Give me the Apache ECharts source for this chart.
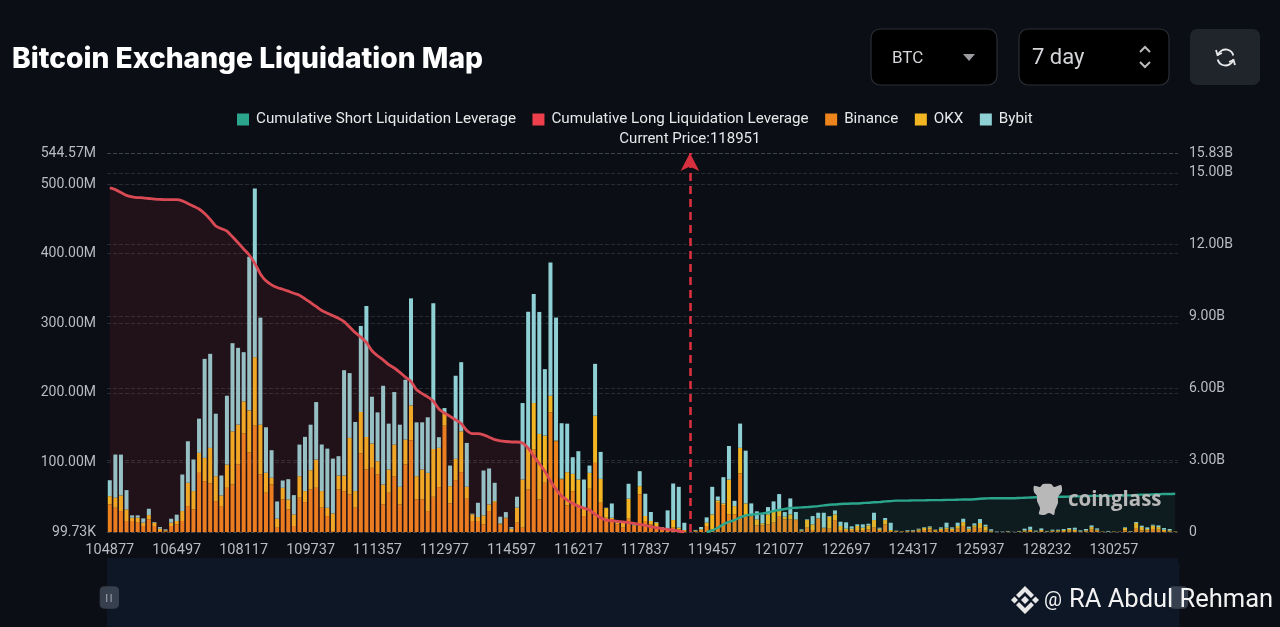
<!DOCTYPE html>
<html><head><meta charset="utf-8">
<style>html,body{margin:0;padding:0;background:#0b0e14;width:1280px;height:627px;overflow:hidden}#c{width:1280px;height:627px}</style>
<script src="https://cdn.jsdelivr.net/npm/echarts@6/dist/echarts.min.js"></script>
</head><body><div id="c"></div>
<script>
const categories=[
104877,105012,105147,105282,105417,105552,105687,105822,105957,106092,106227,106362,
106497,106632,106767,106902,107037,107172,107307,107442,107577,107712,107847,107982,
108117,108252,108387,108522,108657,108792,108927,109062,109197,109332,109467,109602,
109737,109872,110007,110142,110277,110412,110547,110682,110817,110952,111087,111222,
111357,111492,111627,111762,111897,112032,112167,112302,112437,112572,112707,112842,
112977,113112,113247,113382,113517,113652,113787,113922,114057,114192,114327,114462,
114597,114732,114867,115002,115137,115272,115407,115542,115677,115812,115947,116082,
116217,116352,116487,116622,116757,116892,117027,117162,117297,117432,117567,117702,
117837,117972,118107,118242,118377,118512,118647,118782,118917,119052,119187,119322,
119457,119592,119727,119862,119997,120132,120267,120402,120537,120672,120807,120942,
121077,121212,121347,121482,121617,121752,121887,122022,122157,122292,122427,122562,
122697,122832,122967,123102,123237,123372,123507,123642,123777,123912,124047,124182,
124317,124452,124587,124722,124857,124992,125127,125262,125397,125532,125667,125802,
125937,126072,126207,126477,126612,126747,127017,127152,127287,127557,127692,127962,
128232,128367,128502,128637,128907,129042,129177,129312,129582,129717,129852,130122,
130257,130392,130527,130662,130797,130932,131067,131202,131337,131472,131607,131742];
const binance=[39.6,34.9,30.1,15.8,15.8,13.4,8.6,18.1,8.6,1.4,1,8.6,
11,15.8,37.3,32.5,85,73.1,69.7,44.4,36.3,63.5,68.3,97,
141.4,114.6,152.8,82.6,56.4,68.3,6.2,46.8,32.5,8.6,49.2,43,
61.1,63.5,34.9,22.9,1.4,61.1,58.7,54,34.9,112.7,89.8,92.2,
82.6,39.6,56.4,80.2,39.6,97,131.8,46.8,46.8,30.1,50.6,64.5,
152.8,41.1,74.5,86,47.8,15.8,15.8,11,30.1,42,11,19.1,
1.4,13.4,6.2,61.1,118.4,46.8,70.7,171.9,130.4,75.5,38.2,58.7,
37.3,22.9,62.1,99.3,42,20.5,18.1,11,6.2,19.1,8.6,54,
15.8,11,6.2,4.8,3.8,6.2,3.8,1.4,0.1,1,2.9,8.6,
3.8,42,38.7,25.3,25.3,84.1,22.9,22,9.6,9.6,11,13.4,
22.9,18.1,18.1,17.2,1,6.2,2.9,19.1,4.8,4.8,17.2,2.9,
2.9,2.9,2.9,2.9,3.8,6.2,2.9,11,1.4,1,0.5,1,
1,1.9,2.9,3.8,1.9,2.9,3.8,2.9,4.8,8.6,2.9,6.2,
5.7,1.9,1,0.2,0.2,0.5,0.2,0.5,1,1.4,0.5,1.4,
0.5,1,1,1.4,1.9,1.4,0.5,1,3.3,1.9,0.2,0.5,
0.2,0.5,2.4,0.5,5.7,2.4,2.4,4.3,3.3,1.4,1,0.2];
const okx=[11.9,14.3,22.4,16.7,4.8,7.2,4.8,6.2,4.8,3.3,1.4,4.8,
4.8,14.3,33.4,26.3,28.7,33.4,51.1,35.8,16.2,33.4,76.4,57.3,
46.3,60.2,98.4,71.6,28.7,9.6,12.9,16.7,14.3,16.7,31,15.8,
27.7,40.6,23.9,11.9,25.3,20.1,22.4,81.2,23.9,59.7,46.8,34.9,
19.1,28.7,33.4,45.4,25.3,35.8,50.1,33.4,43,54.9,68.8,56.4,
17.2,24.8,30.6,58.7,17.2,9.6,5.7,12.9,9.6,2.4,1.4,1.4,
3.3,21.5,69.3,58.3,66.9,94.1,67.8,23.9,1,1,47.8,24.8,
38.2,11.9,22.9,67.8,34.4,13.9,2.4,2.4,7.2,28.7,1,11.9,
7.2,4.8,7.2,1.4,1,11,2.4,1.4,0,1,1,4.8,
21.5,3.3,2.4,50.1,11.9,36.8,18.1,1,8.6,2.9,14.3,15.8,
7.2,3.8,7.2,1,1.4,11,8.1,0.5,1.4,17.2,8.1,5.7,
1.9,1.9,5.7,3.3,5.7,11,1.9,6.2,1.4,0.5,0.5,0.5,
1,1.9,2.9,2.9,1,1.9,2.4,1.9,3.8,5.7,1.9,3.3,
7.2,6.2,1,0,0,0.5,0,0.5,1.4,1.9,0.5,1.4,
0.5,1,1.4,1.4,2.4,1.9,0.5,1.4,3.8,1.4,0.5,0,
0.5,0,3.3,0.5,7.2,4.8,1.9,4.8,3.8,1.9,1.4,0.5];
const bybit=[22.9,62.1,58.7,27.7,3.3,3.3,6.2,9.1,1,2.4,1.4,5.7,
9.1,52.5,59.7,45.4,49.2,142.3,135.2,89.8,28.7,98.9,126.6,110.3,
70.7,220.7,242.2,153.8,65.4,39.6,24.8,10.5,29.1,27.7,45.4,77.9,
65.4,82.6,66.9,85,78.8,27.7,151.4,93.1,99.3,123.7,188.2,67.3,
70.2,141.8,65.9,75.5,89.3,86,153.8,77.4,67.8,79.8,209.2,15.3,
8.1,29.6,119.4,99.3,63,1,20.5,64.5,51.6,26.3,9.6,8.1,
2.4,15.8,109.8,197.2,156.7,175.3,95.5,191.5,176.7,79.8,69.7,23.9,
40.6,40.6,10.5,74.5,38.7,0.5,20.5,2.4,1,21.5,1.4,21.5,
32,12.9,1,1,26.3,52.5,58.7,10.5,0,1,3.3,7.6,
39.6,5.7,37.7,48.2,7.6,34.9,75.9,18.1,11.5,12.9,10.5,14.8,
24.4,6.7,22.9,10.5,1.4,1,11.9,8.1,21.5,1,5.7,6.2,
9.1,3.3,2.4,4.8,2.4,10.5,1.4,2.9,10.5,0.5,0,1,
1,1,1,1.4,0.5,1.9,7.2,1.9,4.8,4.8,2.9,2.9,
5.7,2.4,1.9,0.5,0.5,0.5,0.2,0.5,2.4,4.3,1,2.4,
0.5,1.4,1,1.4,1.4,2.9,1.4,1.9,2.4,1.9,0,1,
0,0,1,0.5,1.4,1.9,2.4,1.4,2.4,2.4,1.9,0];
const longLev=[14.37,14.3,14.18,14.06,14.0,13.97,13.96,13.93,13.9,13.89,13.88,13.88,
13.88,13.83,13.72,13.61,13.49,13.3,13.06,12.78,12.67,12.57,12.33,12.08,
11.82,11.57,11.22,10.78,10.49,10.32,10.21,10.14,10.06,9.97,9.89,9.74,
9.58,9.42,9.25,9.14,9.03,8.93,8.79,8.56,8.33,8.14,7.92,7.57,
7.36,7.19,6.99,6.85,6.67,6.47,6.29,5.94,5.78,5.64,5.46,5.14,
4.97,4.83,4.69,4.53,4.24,4.11,4.11,4.06,3.96,3.86,3.81,3.78,
3.76,3.76,3.72,3.5,3.17,2.86,2.54,2.13,1.78,1.5,1.33,1.19,
1.08,1.0,0.92,0.74,0.6,0.5,0.47,0.44,0.42,0.39,0.36,0.32,
0.28,0.22,0.18,0.14,0.11,0.08,0.04,0];
const shortLevFrom119322=[0,0.07,0.18,0.32,0.42,0.5,0.61,0.69,0.72,0.75,0.78,0.82,0.875,
0.92,0.96,1.0,1.01,1.03,1.04,1.06,1.08,1.11,1.14,1.15,1.17,
1.18,1.19,1.19,1.21,1.22,1.24,1.25,1.28,1.29,1.31,1.31,1.31,
1.32,1.32,1.32,1.33,1.33,1.33,1.34,1.34,1.35,1.36,1.36,1.37,
1.39,1.40,1.41,1.41,1.41,1.41,1.41,1.42,1.43,1.44,1.45,1.45,
1.46,1.46,1.47,1.47,1.48,1.49,1.49,1.50,1.51,1.51,1.51,1.51,
1.52,1.52,1.53,1.53,1.55,1.56,1.56,1.57,1.58,1.59,1.59,1.60];
const shortLev=categories.map(c=>null);
shortLevFrom119322.forEach((v,i)=>{shortLev[categories.indexOf(119322)+i]=v;});
const currentPriceCategory=118917, currentPrice=118951;
const toM=a=>a.map(v=>v*1e6), toB=a=>a.map(v=>v==null?null:v*1e9);

const chart=echarts.init(document.getElementById('c'),null,{renderer:'canvas'});
const font='Roboto, "Noto Sans", sans-serif', axisC='#b9bcc0', txt='#e6e8ea';
const bar=(name,data,color)=>({name,type:'bar',stack:'liq',data:toM(data),yAxisIndex:0,barWidth:4,itemStyle:{color},z:2});
const box=(x,w,fill,stroke,r)=>({type:'rect',shape:{x,y:29,width:w,height:56,r},style:{fill,stroke,lineWidth:1.2},z:50});
const mark='#e8e8e8';
chart.setOption({
animation:false,backgroundColor:'#0b0e14',
title:{text:'Bitcoin Exchange Liquidation Map',left:7,top:41,textStyle:{color:'#fff',fontFamily:'Inter, sans-serif',fontWeight:800,fontSize:28.2}},
legend:{top:107,left:232,itemWidth:12,itemHeight:12,itemGap:16.5,icon:'rect',
  data:['Cumulative Short Liquidation Leverage','Cumulative Long Liquidation Leverage','Binance','OKX','Bybit'],
  textStyle:{color:txt,fontSize:15.2,fontFamily:font,padding:[0,0,0,2]}},
grid:{left:107,right:102,top:153,bottom:95,containLabel:false},
xAxis:{type:'category',data:categories,boundaryGap:true,axisLine:{show:false},axisTick:{show:false},splitLine:{show:false},
  axisLabel:{color:axisC,fontSize:14.5,fontFamily:font,interval:(i)=>i%12===0,margin:11,hideOverlap:false}},
yAxis:[
 {type:'value',min:0,max:544570000,interval:100000000,axisLine:{show:false},axisTick:{show:false},
  splitLine:{lineStyle:{color:'rgba(150,165,165,0.2)',type:'dashed',width:1}},
  axisLabel:{color:axisC,fontSize:14,fontFamily:font,margin:11,showMaxLabel:true,
   formatter:v=>v===0?'99.73K':(v/1e6).toFixed(2)+'M'}},
 {type:'value',min:0,max:15830000000,interval:3000000000,axisLine:{show:false},axisTick:{show:false},
  splitLine:{lineStyle:{color:'rgba(150,165,165,0.2)',type:'dashed',width:1}},
  axisLabel:{color:axisC,fontSize:14,fontFamily:font,margin:11,showMaxLabel:true,
   formatter:v=>v===0?'0':(v/1e9).toFixed(2)+'B'}}],
dataZoom:[{type:'slider',xAxisIndex:0,left:107,right:102,top:563,height:69,start:0,end:100,filterMode:'none',
  showDetail:false,showDataShadow:false,brushSelect:false,realtime:false,
  backgroundColor:'#0e1726',fillerColor:'#0e1726',borderColor:'transparent',
  moveHandleSize:0,handleIcon:'path://M4,0 H14 Q18,0 18,4 V17 Q18,21 14,21 H4 Q0,21 0,17 V4 Q0,0 4,0 Z',
  handleSize:'31%',handleStyle:{color:'#3a4250',borderColor:'#3a4250',opacity:0.95}}],
series:[
 {name:'Cumulative Short Liquidation Leverage',type:'line',yAxisIndex:1,data:toB(shortLev),showSymbol:false,smooth:0.2,connectNulls:false,
  lineStyle:{color:'#2ba58c',width:2.4},itemStyle:{color:'#2ba58c'},areaStyle:{color:'rgba(43,165,140,0.13)'},z:5},
 {name:'Cumulative Long Liquidation Leverage',type:'line',yAxisIndex:1,data:toB(longLev),showSymbol:false,smooth:0.2,
  lineStyle:{color:'#d94a55',width:2.8},itemStyle:{color:'#ee3f4d'},areaStyle:{color:'rgba(220,60,70,0.15)'},z:5},
 Object.assign(bar('Binance',binance,'#ee841c'),{markLine:{silent:true,symbol:['none','arrow'],symbolSize:[14,18],animation:false,
   data:[{xAxis:String(currentPriceCategory)}],
   lineStyle:{color:'#d8303e',type:[8,5],width:2.6},
   label:{show:true,position:'end',formatter:'Current Price:'+currentPrice,color:txt,fontSize:15,fontFamily:font,distance:6}}}),
 bar('OKX',okx,'#f3b522'),
 bar('Bybit',bybit,'#8fd0d4')
],
graphic:[
 {type:'rect',shape:{x:107,y:558,width:1071,height:69},style:{fill:'#0e1726'},z:1},
 {type:'rect',shape:{x:106,y:594,width:1.3,height:8},style:{fill:'#8f949c'},z:60},
 {type:'rect',shape:{x:110.5,y:594,width:1.3,height:8},style:{fill:'#8f949c'},z:60},
 box(871,126,'#000','#2a2e36',9),
 {type:'text',x:892,y:59,style:{text:'BTC',fill:'#d4d6d9',font:'17px '+font,verticalAlign:'middle'},z:51},
 {type:'polygon',shape:{points:[[963,54],[975,54],[969,61]]},style:{fill:'#9a9ca0'},z:51},
 box(1019,150,'#000','#2a2e36',9),
 {type:'text',x:1032,y:58,style:{text:'7 day',fill:'#d4d6d9',font:'22px '+font,verticalAlign:'middle'},z:51},
 {type:'polyline',shape:{points:[[1140,52],[1145,47],[1150,52]]},style:{stroke:'#b9bbbf',lineWidth:2,fill:null},z:51},
 {type:'polyline',shape:{points:[[1140,62],[1145,67],[1150,62]]},style:{stroke:'#b9bbbf',lineWidth:2,fill:null},z:51},
 {type:'rect',shape:{x:1190,y:29,width:70,height:56,r:7},style:{fill:'#20242b'},z:50},
 {type:'arc',shape:{cx:1225.5,cy:57.5,r:8,startAngle:-2.9,endAngle:-0.25},style:{stroke:'#e8e9eb',lineWidth:1.8,fill:null},z:51},
 {type:'arc',shape:{cx:1225.5,cy:57.5,r:8,startAngle:0.25,endAngle:2.9},style:{stroke:'#e8e9eb',lineWidth:1.8,fill:null},z:51},
 {type:'polyline',shape:{points:[[1216,50],[1217.5,55],[1222,53]]},style:{stroke:'#e8e9eb',lineWidth:1.8,fill:null},z:51},
 {type:'polyline',shape:{points:[[1235,65],[1233.5,60],[1229,62]]},style:{stroke:'#e8e9eb',lineWidth:1.8,fill:null},z:51},
 // coinglass watermark
 {type:'polygon',shape:{smooth:0.25,points:[[1034,486],[1040,487],[1043,484],[1051,484],[1054,487],[1061,485],[1062,491],[1058,497],[1058,503],[1055,510],[1054,515],[1049,513],[1044,515],[1039,514],[1040,508],[1037,501],[1037,496],[1034,492]]},style:{fill:'#b8b8b8'},z:40},
 {type:'text',x:1068,y:500,style:{text:'coinglass',fill:'#b8b8b8',font:'700 20.5px "Open Sans", sans-serif',verticalAlign:'middle'},z:40},
 // author mark
 {type:'polygon',shape:{points:[[1025,586],[1034,595],[1031,598],[1025,592],[1019,598],[1016,595]]},style:{fill:mark},z:60},
 {type:'polygon',shape:{points:[[1025,614],[1034,605],[1031,602],[1025,608],[1019,602],[1016,605]]},style:{fill:mark},z:60},
 {type:'polygon',shape:{points:[[1025,596],[1029,600],[1025,604],[1021,600]]},style:{fill:mark},z:60},
 {type:'polygon',shape:{points:[[1014.5,596.5],[1018,600],[1014.5,603.5],[1011,600]]},style:{fill:mark},z:60},
 {type:'polygon',shape:{points:[[1035.5,596.5],[1039,600],[1035.5,603.5],[1032,600]]},style:{fill:mark},z:60},
 {type:'text',x:1044,y:601,style:{text:'@',fill:'#f2f2f2',font:'20px Roboto, sans-serif',verticalAlign:'middle'},z:60},
 {type:'text',x:1069,y:601,style:{text:'RA Abdul Rehman',fill:'#f2f2f2',font:'25.5px Roboto, sans-serif',verticalAlign:'middle'},z:60}
]});
</script></body></html>
